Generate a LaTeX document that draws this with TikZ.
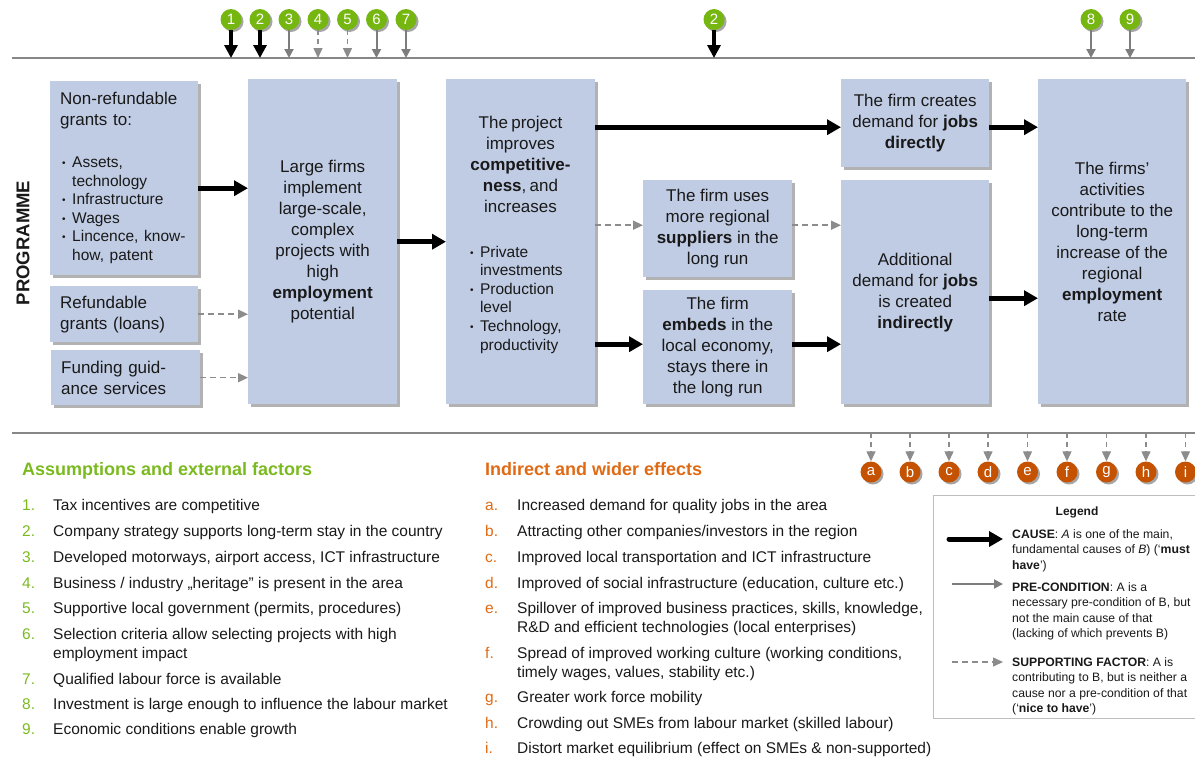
\documentclass[tikz,border=0pt]{standalone}
\usepackage{fontspec}
\setmainfont{Liberation Sans}
\usetikzlibrary{arrows.meta,shadows}

\definecolor{boxfill}{RGB}{192,204,228}
\definecolor{ballgreen}{RGB}{118,182,16}
\definecolor{titlegreen}{RGB}{122,186,30}
\definecolor{ballorange}{RGB}{197,82,0}
\definecolor{titleorange}{RGB}{224,106,20}
\definecolor{arrowgray}{RGB}{125,125,125}
\definecolor{dashgray}{RGB}{140,140,140}
\definecolor{rulegray}{RGB}{135,135,135}
\definecolor{framegray}{RGB}{190,190,190}
\definecolor{ink}{RGB}{25,25,25}

\newcommand\fs[2]{\fontsize{#1}{#2}\selectfont}
\newcommand\bul{\makebox[10pt][l]{\raisebox{1pt}{\fs{10}{10}\textbullet}}}
\newcommand\ind{\hspace*{10pt}}

\tikzset{
  box/.style={fill=boxfill, inner sep=0pt, text=ink, align=center,
    font=\fs{17}{21},
    drop shadow={shadow xshift=2.5pt, shadow yshift=-2.5pt, fill=black, opacity=0.3}},
  rule/.style={rulegray, line width=1.5pt},
  cause/.style={black, line width=5pt, -{Triangle[length=14pt,width=15pt]}},
  causetop/.style={black, line width=4pt, -{Triangle[length=13pt,width=13pt]}},
  precond/.style={arrowgray, line width=2pt, -{Triangle[length=9pt,width=9pt]}},
  support/.style={dashgray, line width=1.5pt, dash pattern=on 6pt off 4pt,
    -{Triangle[length=10pt,width=9pt]}},
  numball/.style={circle, fill=ballgreen, text=white, minimum size=21pt, inner sep=0pt,
    font=\fs{15}{15},
    drop shadow={shadow xshift=2pt, shadow yshift=-2pt, fill=black, opacity=0.35}},
  letball/.style={numball, fill=ballorange},
  listnum/.style={anchor=base west, inner sep=0pt, font=\fs{15.5}{19}},
  listtext/.style={anchor=base west, inner sep=0pt, text=ink, font=\fs{15.5}{19}},
  legtext/.style={anchor=north west, inner sep=0pt, text=ink, align=left, font=\fs{12.2}{15.6}},
}

\begin{document}
\begin{tikzpicture}[x=1pt,y=-1pt]
\useasboundingbox (0,0) rectangle (1195,758);

% horizontal rules
\coordinate (tl0) at (12,58);
\coordinate (tl1) at (1195,58);
\coordinate (bl0) at (12,433);
\coordinate (bl1) at (1195,433);
\draw[rule] (tl0) -- (tl1);
\draw[rule] (bl0) -- (bl1);

% programme label
\node[rotate=90, font=\bfseries\fs{18.5}{18.5}, text=ink] (prog) at (23,243) {PROGRAMME};

% boxes
\node[box, anchor=north west, minimum width=148pt, minimum height=194pt,
  text width=128pt, inner xsep=10pt, align=left] (grants) at (50,81)
  {{\fs{17}{21}Non-refundable\\grants to:\par}
   \vspace{23pt}
   {\fs{15.5}{18.6}\leftskip=2pt\bul Assets,\\\ind technology\\\bul Infrastructure\\\bul Wages\\\bul Lincence, know-\\\ind how, patent\par}};
\node[box, anchor=north west, minimum width=148pt, minimum height=56pt,
  text width=128pt, inner xsep=10pt, align=left] (loans) at (50,286)
  {Refundable\\grants (loans)};
\node[box, anchor=north west, minimum width=149pt, minimum height=55pt,
  text width=129pt, inner xsep=10pt, align=left] (guide) at (51,350)
  {Funding guid-\\ance services};
\node[box, anchor=north west, minimum width=149pt, minimum height=325pt] (large) at (248,79)
  {Large firms\\implement\\large-scale,\\complex\\projects with\\high\\\textbf{employment}\\potential};
\node[box, anchor=north west, minimum width=149pt, minimum height=325pt] (proj) at (446,79) {};
\node[anchor=north, inner sep=0pt, text width=149pt, align=left, text=ink] (projtext) at (520.5,116)
  {{\centering\fs{17}{21}The project\\improves\\\textbf{competitive-}\\\textbf{ness}, and\\increases\par}
   \vspace{26pt}
   {\raggedright\fs{15.5}{18.6}\leftskip=24pt
    \bul Private\\\ind investments\\\bul Production\\\ind level\\\bul Technology,\\\ind productivity\par}};
\node[box, anchor=north west, minimum width=149pt, minimum height=97pt] (supp) at (643,180)
  {The firm uses\\more regional\\\textbf{suppliers} in the\\long run};
\node[box, anchor=north west, minimum width=149pt, minimum height=114pt] (embed) at (643,290)
  {The firm\\\textbf{embeds} in the\\local economy,\\stays there in\\the long run};
\node[box, anchor=north west, minimum width=148pt, minimum height=88pt] (direct) at (841,79)
  {The firm creates\\demand for \textbf{jobs}\\\textbf{directly}};
\node[box, anchor=north west, minimum width=148pt, minimum height=224pt] (indir) at (841,180)
  {Additional\\demand for \textbf{jobs}\\is created\\\textbf{indirectly}};
\node[box, anchor=north west, minimum width=148pt, minimum height=325pt] (final) at (1038,79)
  {The firms’\\activities\\contribute to the\\long-term\\increase of the\\regional\\\textbf{employment}\\rate};

% connectors between boxes
\draw[cause] ([yshift=-10pt]grants.east) -- ([yshift=-10pt]grants.east -| large.west);
\draw[support] (loans.east) -- (loans.east -| large.west);
\draw[support] (guide.east) -- (guide.east -| large.west);
\draw[cause] (large) -- (proj);
\draw[cause] ([yshift=-4pt]direct.west -| proj.east) -- ([yshift=-4pt]direct.west);
\draw[support] ([yshift=3.5pt]supp.west -| proj.east) -- ([yshift=3.5pt]supp.west);
\draw[support] ([yshift=3.5pt]supp.east) -- ([yshift=3.5pt]supp.east -| indir.west);
\draw[cause] ([yshift=3pt]embed.west -| proj.east) -- ([yshift=3pt]embed.west);
\draw[cause] ([yshift=3pt]embed.east) -- ([yshift=3pt]embed.east -| indir.west);
\draw[cause] ([yshift=-4pt]direct.east) -- ([yshift=-4pt]direct.east -| final.west);
\draw[cause] ([yshift=-6pt]indir.east) -- ([yshift=-6pt]indir.east -| final.west);

% assumptions markers on top
\node[numball] (g1) at (231,19.5) {1};
\node[numball] (g2) at (260,19.5) {2};
\node[numball] (g3) at (289,19.5) {3};
\node[numball] (g4) at (318,19.5) {4};
\node[numball] (g5) at (347.5,19.5) {5};
\node[numball] (g6) at (376.5,19.5) {6};
\node[numball] (g7) at (406,19.5) {7};
\node[numball] (g2b) at (714,19.5) {2};
\node[numball] (g8) at (1091,19.5) {8};
\node[numball] (g9) at (1130,19.5) {9};
\draw[causetop] (g1) -- (g1 |- tl0);
\draw[causetop] (g2) -- (g2 |- tl0);
\draw[precond] (g3) -- (g3 |- tl0);
\draw[support, line width=1.3pt, dash pattern=on 5pt off 4pt] (g4) -- (g4 |- tl0);
\draw[support, line width=1.3pt, dash pattern=on 5pt off 4pt] (g5) -- (g5 |- tl0);
\draw[precond] (g6) -- (g6 |- tl0);
\draw[precond] (g7) -- (g7 |- tl0);
\draw[causetop] (g2b) -- (g2b |- tl0);
\draw[precond] (g8) -- (g8 |- tl0);
\draw[precond] (g9) -- (g9 |- tl0);

% wider-effect markers below
\node[letball] (la) at (871,472) {a};
\node[letball] (lb) at (910,472) {b};
\node[letball] (lc) at (949,472) {c};
\node[letball] (ld) at (988,472) {d};
\node[letball] (le) at (1027.5,472) {e};
\node[letball] (lf) at (1067,472) {f};
\node[letball] (lg) at (1106.5,472) {g};
\node[letball] (lh) at (1146,472) {h};
\node[letball] (li) at (1185.5,472) {i};
\foreach \m in {la,lb,lc,ld,le,lf,lg,lh,li}
  \draw[support, line width=1.3pt, dash pattern=on 5pt off 4pt] (\m |- bl0) -- (\m);

% assumptions list
\node[anchor=base west, inner sep=0pt, text=titlegreen, font=\bfseries\fs{18}{18}] (asstitle) at (22,475)
  {Assumptions and external factors};
\node[listnum, text=titlegreen] (an1) at (22,510) {1.};
\node[listtext] (at1) at (53,510) {Tax incentives are competitive};
\node[listnum, text=titlegreen] (an2) at (22,536) {2.};
\node[listtext] (at2) at (53,536) {Company strategy supports long-term stay in the country};
\node[listnum, text=titlegreen] (an3) at (22,562) {3.};
\node[listtext] (at3) at (53,562) {Developed motorways, airport access, ICT infrastructure};
\node[listnum, text=titlegreen] (an4) at (22,588) {4.};
\node[listtext] (at4) at (53,588) {Business / industry „heritage” is present in the area};
\node[listnum, text=titlegreen] (an5) at (22,613) {5.};
\node[listtext] (at5) at (53,613) {Supportive local government (permits, procedures)};
\node[listnum, text=titlegreen] (an6) at (22,639) {6.};
\node[listtext] (at6) at (53,639) {\parbox[t]{400pt}{Selection criteria allow selecting projects with high\\employment impact}};
\node[listnum, text=titlegreen] (an7) at (22,684) {7.};
\node[listtext] (at7) at (53,684) {Qualified labour force is available};
\node[listnum, text=titlegreen] (an8) at (22,709) {8.};
\node[listtext] (at8) at (53,709) {Investment is large enough to influence the labour market};
\node[listnum, text=titlegreen] (an9) at (22,734) {9.};
\node[listtext] (at9) at (53,734) {Economic conditions enable growth};

% wider effects list
\node[anchor=base west, inner sep=0pt, text=titleorange, font=\bfseries\fs{18}{18}] (efftitle) at (485,475)
  {Indirect and wider effects};
\node[listnum, text=titleorange] (ea) at (485,510) {a.};
\node[listtext] (eta) at (517,510) {Increased demand for quality jobs in the area};
\node[listnum, text=titleorange] (eb) at (485,536) {b.};
\node[listtext] (etb) at (517,536) {Attracting other companies/investors in the region};
\node[listnum, text=titleorange] (ec) at (485,562) {c.};
\node[listtext] (etc) at (517,562) {Improved local transportation and ICT infrastructure};
\node[listnum, text=titleorange] (ed) at (485,588) {d.};
\node[listtext] (etd) at (517,588) {Improved of social infrastructure (education, culture etc.)};
\node[listnum, text=titleorange] (ee) at (485,613) {e.};
\node[listtext] (ete) at (517,613) {\parbox[t]{420pt}{Spillover of improved business practices, skills, knowledge,\\R\&D and efficient technologies (local enterprises)}};
\node[listnum, text=titleorange] (ef) at (485,658) {f.};
\node[listtext] (etf) at (517,658) {\parbox[t]{420pt}{Spread of improved working culture (working conditions,\\timely wages, values, stability etc.)}};
\node[listnum, text=titleorange] (eg) at (485,702) {g.};
\node[listtext] (etg) at (517,702) {Greater work force mobility};
\node[listnum, text=titleorange] (eh) at (485,728) {h.};
\node[listtext] (eth) at (517,728) {Crowding out SMEs from labour market (skilled labour)};
\node[listnum, text=titleorange] (ei) at (485,753) {i.};
\node[listtext] (eti) at (517,753) {Distort market equilibrium (effect on SMEs \& non-supported)};

% legend (its frame runs on past the right edge)
\node[draw=framegray, line width=1pt, anchor=north west, minimum width=270pt, minimum height=223pt,
  inner sep=0pt] (legend) at (933,495) {};
\node[font=\bfseries\fs{12}{12}, text=ink] (legtitle) at (1077,512) {Legend};
\coordinate (lc0) at (949,539);
\coordinate (lc1) at (1003,539);
\draw[cause, line cap=round] (lc0) -- (lc1);
\coordinate (lp0) at (952,584);
\coordinate (lp1) at (1003,584);
\draw[precond] (lp0) -- (lp1);
\coordinate (ls0) at (952,662);
\coordinate (ls1) at (1003,662);
\draw[support] (ls0) -- (ls1);
\node[legtext] (legcause) at (1012,529)
  {\textbf{CAUSE}: \textit{A} is one of the main,\\fundamental causes of \textit{B}) (‘\textbf{must}\\\textbf{have}’)};
\node[legtext] (legpre) at (1012,582)
  {\textbf{PRE-CONDITION}: A is a\\necessary pre-condition of B, but\\not the main cause of that\\(lacking of which prevents B)};
\node[legtext] (legsup) at (1012,657)
  {\textbf{SUPPORTING FACTOR}: A is\\contributing to B, but is neither a\\cause nor a pre-condition of that\\(‘\textbf{nice to have}’)};
\end{tikzpicture}
\end{document}
